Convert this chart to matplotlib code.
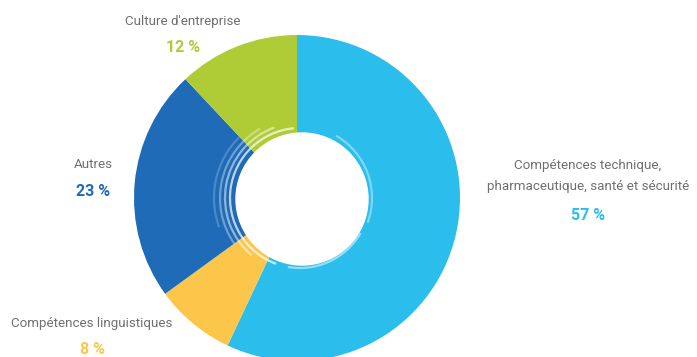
import matplotlib.pyplot as plt
from matplotlib.patches import Circle, Arc

# data
labels = ["Compétences technique,\npharmaceutique, santé et sécurité",
          "Compétences linguistiques", "Autres", "Culture d'entreprise"]
values = [57, 8, 23, 12]
colors = ["#2bbdec", "#fcc64b", "#1f6bb7", "#afcb36"]

W, H = 697, 357
fig = plt.figure(figsize=(W / 100, H / 100), dpi=100)
ax = fig.add_axes([0, 0, 1, 1])

# donut (y measured from bottom)
cx, cy, r = 297, H - 198, 163
ax.pie(values, colors=colors, startangle=90, counterclock=False,
       center=(cx, cy), radius=r, frame=True,
       wedgeprops=dict(linewidth=0))
ax.set_xlim(0, W)
ax.set_ylim(0, H)
ax.set_aspect("equal")
ax.axis("off")

# rough white hole with brush-like swirl arcs
ax.add_patch(Circle((cx + 5, cy - 1), 66, color="white", zorder=3))
swirls = [(70, 95, 250, 0.7), (75, 110, 230, 0.5), (80, 120, 215, 0.35),
          (86, 135, 200, 0.2), (70, 260, 330, 0.5), (72, -20, 60, 0.4)]
for rad, t1, t2, a in swirls:
    ax.add_patch(Arc((cx + 3, cy), 2 * rad, 2 * rad, theta1=t1, theta2=t2,
                     color="white", lw=1.6, alpha=a, zorder=3))

grey = "#6f6f6f"
font = ["Roboto", "DejaVu Sans"]
fs = 9.6

# label positions in pixels from top-left
pos = [(588, 176), (92, 323), (93, 165), (183, 22)]
pct_y = [216, 349, 191, 47]
for lab, v, c, (x, y), py in zip(labels, values, colors, pos, pct_y):
    ax.text(x, H - y, lab, ha="center", va="center", color=grey,
            fontsize=fs, family=font, linespacing=1.75)
    ax.text(x, H - py, f"{v} %", ha="center", va="center", color=c,
            fontsize=11.5, family=font, fontweight="bold")

fig.savefig("out.png", dpi=100)
